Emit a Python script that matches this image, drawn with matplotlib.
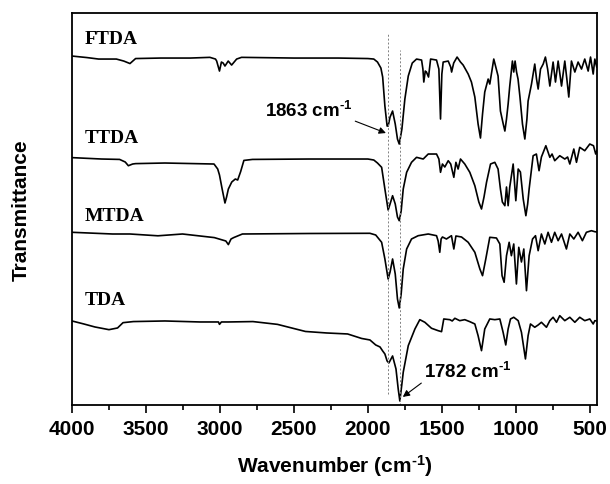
import matplotlib
matplotlib.use("Agg")
import matplotlib.pyplot as plt
from matplotlib.ticker import MultipleLocator

plt.rcParams['font.family'] = ['Liberation Sans', 'DejaVu Sans']
plt.rcParams['font.weight'] = 'bold'
plt.rcParams['mathtext.fontset'] = 'custom'
plt.rcParams['mathtext.rm'] = 'Liberation Sans:bold'
plt.rcParams['mathtext.it'] = 'Liberation Sans:bold'
plt.rcParams['mathtext.bf'] = 'Liberation Sans:bold'

# FTIR spectra: wavenumber (cm-1) and relative transmittance
wn_ftda = [4000, 3900, 3820, 3700, 3650, 3608, 3570, 3400, 3200, 3068, 3030, 3022, 3003, 2990,
           2978, 2966, 2944, 2921, 2887, 2854, 2500, 2200, 2000, 1960, 1935, 1912, 1900, 1885,
           1870, 1863, 1850, 1833, 1815, 1800, 1788, 1770, 1750, 1727, 1700, 1671, 1637, 1628,
           1622, 1612, 1604, 1590, 1576, 1536, 1520, 1509, 1500, 1491, 1457, 1440, 1434, 1420,
           1397, 1374, 1356, 1322, 1300, 1277, 1255, 1239, 1225, 1210, 1187, 1176, 1149, 1120,
           1104, 1085, 1074, 1063, 1052, 1041, 1023, 1014, 1005, 995, 985, 972, 955, 939, 925,
           917, 894, 872, 860, 849, 833, 815, 800, 785, 770, 748, 732, 714, 691, 669, 655, 642,
           624, 601, 579, 556, 534, 511, 495, 477, 466, 453]
t_ftda = [103, 101.5, 100, 100, 98, 95.5, 100.5, 101, 101, 101.7, 100, 98, 88, 97,
          96, 93, 98, 94, 100, 101.7, 101, 101, 100.5, 100, 97, 91, 82, 53,
          33, 33, 42, 48, 35, 20, 15, 30, 60, 83, 96, 100, 99, 90,
          77, 88, 87, 82, 100, 99, 90, 40, 85, 97, 98, 92, 87, 96,
          102, 97, 94, 85, 77, 62, 35, 21, 45, 67, 80, 75, 100, 83,
          48, 35, 28, 40, 55, 73, 98, 87, 98, 87, 80, 62, 35, 20, 40,
          58, 75, 95, 80, 70, 90, 95, 102, 90, 73, 97, 77, 98, 73, 98, 80, 62,
          98, 87, 97, 90, 100, 88, 102, 85, 100, 92]

wn_ttda = [4000, 3800, 3678, 3640, 3619, 3590, 3570, 3372, 3040, 3015, 3003, 2985, 2966, 2955,
           2943, 2920, 2896, 2880, 2860, 2838, 2780, 2400, 2000, 1960, 1935, 1907, 1885, 1863,
           1850, 1833, 1815, 1800, 1788, 1775, 1761, 1738, 1705, 1671, 1626, 1592, 1536, 1520,
           1509, 1496, 1480, 1457, 1440, 1419, 1405, 1390, 1374, 1345, 1311, 1277, 1250, 1232,
           1215, 1198, 1171, 1142, 1120, 1104, 1091, 1074, 1063, 1052, 1041, 1018, 1000, 984,
           969, 950, 932, 920, 910, 883, 861, 843, 827, 797, 770, 755, 737, 703, 669, 650,
           635, 608, 590, 568, 534, 500, 475, 460, 453]
t_ttda = [101.4, 100, 99.6, 97, 93.3, 95, 95.4, 96, 95, 90, 84, 70, 56, 62,
          70, 77, 80, 79, 87.4, 98.6, 99.6, 100, 100, 99, 96, 91.7, 70, 49,
          55, 63.3, 55, 42, 38.3, 48, 70, 86.7, 96.7, 101.7, 100, 105, 105, 100,
          86.7, 95, 92, 98.3, 95, 81.7, 96.7, 90, 100, 95, 86.7, 73.3, 57, 50,
          62, 76.7, 95, 96.7, 90, 70, 57, 53.3, 72, 53.3, 72, 95, 58.3, 90,
          87, 60, 43.3, 55, 70, 103.3, 105, 88.3, 102, 113.3, 101.7, 105, 98.3, 103.3, 100, 102,
          95, 110, 96.7, 111.7, 108.3, 115, 113.3, 105, 108]

wn_mtda = [4000, 3726, 3608, 3419, 3253, 3038, 2960, 2943, 2925, 2907, 2848, 2400, 1986, 1947,
           1907, 1885, 1863, 1850, 1833, 1815, 1800, 1788, 1775, 1761, 1738, 1705, 1660, 1592,
           1536, 1525, 1514, 1505, 1496, 1469, 1435, 1419, 1405, 1367, 1322, 1277, 1243, 1225,
           1203, 1176, 1131, 1108, 1093, 1079, 1063, 1045, 1030, 1014, 996, 980, 962, 946,
           928, 910, 887, 867, 849, 827, 804, 782, 759, 737, 714, 691, 658, 635, 608, 579,
           550, 523, 489, 466, 453]
t_mtda = [101.7, 100, 100, 98.2, 100, 96.4, 93, 89.4, 95, 96.4, 100, 100.5, 100.7, 99,
          91.7, 75, 55, 62, 75, 60, 35, 26, 40, 65, 85, 95, 98.3, 100,
          98.3, 93, 81.7, 95, 97, 95, 98.3, 85, 98, 97, 91.7, 81.7, 65, 58.3,
          75, 96.7, 96, 90, 58.3, 51.7, 78.3, 91.7, 78.3, 90, 50, 86.7, 72, 85,
          43.3, 78.3, 95, 98.3, 83.3, 100, 90, 101.7, 91.7, 101.7, 93.3, 100, 85, 100, 95, 101.7,
          93.3, 101.7, 103.3, 102.3, 102]

wn_tda = [4000, 3920, 3845, 3750, 3692, 3655, 3585, 3372, 3135, 3010, 3003, 2990, 2944, 2777,
          2611, 2422, 2279, 2137, 2042, 1986, 1947, 1918, 1900, 1885, 1870, 1858, 1833, 1810,
          1795, 1784, 1770, 1761, 1727, 1682, 1649, 1615, 1570, 1525, 1502, 1487, 1446, 1430,
          1412, 1379, 1345, 1311, 1277, 1255, 1232, 1210, 1176, 1142, 1108, 1086, 1068, 1052,
          1036, 1014, 984, 962, 935, 917, 901, 872, 849, 827, 793, 770, 748, 725, 703, 669,
          635, 601, 568, 534, 500, 477, 466, 453]
t_tda = [100, 97, 94, 91.3, 93, 98.3, 99.4, 100, 99, 99, 96.6, 99, 99, 99.4,
         96.6, 89.5, 88, 87, 82.5, 81, 76, 74, 70, 67, 60, 58, 65, 52,
         32, 20, 37, 48.7, 75.3, 92, 101.3, 98.7, 92.7, 90.3, 89.3, 102, 101.3, 100,
         102.7, 100.3, 101.3, 99.3, 97, 85.3, 70.3, 92, 102, 101.3, 102, 88.7, 76, 92,
         102, 103.7, 100.3, 88.7, 62, 85.3, 97, 93.7, 96, 98.7, 93.7, 100.3, 103.7, 98.7, 105.3, 100.3,
         103.7, 98.7, 103.7, 100.3, 102, 97, 100.3, 100]

names = ['FTDA', 'TTDA', 'MTDA', 'TDA']
marked_peaks = [1863, 1782]

spectra = [(wn_ftda, t_ftda), (wn_ttda, t_ttda), (wn_mtda, t_mtda), (wn_tda, t_tda)]
offsets = [246, 146, 71, -16]
label_y = [367, 268, 190, 105]

fig = plt.figure(figsize=(6.1, 4.85), dpi=100)
ax = fig.add_axes([0.118, 0.163, 0.861, 0.808])

for (x, t), off in zip(spectra, offsets):
    ax.plot(x, [v + off for v in t], color='black', lw=1.2)

for name, y in zip(names, label_y):
    ax.text(3912, y, name, family=['Liberation Serif', 'DejaVu Serif'], fontsize=14,
            fontweight='bold', va='center', ha='left')

ax.plot([marked_peaks[0]] * 2, [11, 372], ls=(0, (2, 2)), color='gray', lw=0.7)
ax.plot([marked_peaks[1]] * 2, [0, 355], ls=(0, (2, 2)), color='gray', lw=0.7)

sup = r'$^{\text{-1}}$'
ax.annotate('%d cm' % marked_peaks[0] + sup, xy=(1878, 272), xytext=(2400, 295),
            fontsize=13.5, ha='center', va='center',
            arrowprops=dict(arrowstyle='-|>', color='black', lw=0.8,
                            shrinkA=0, shrinkB=0, mutation_scale=10,
                            relpos=(1.0, 0.0)))
ax.annotate('%d cm' % marked_peaks[1] + sup, xy=(1764, 8), xytext=(1324, 34),
            fontsize=13.5, ha='center', va='center',
            arrowprops=dict(arrowstyle='-|>', color='black', lw=0.8,
                            shrinkA=0, shrinkB=0, mutation_scale=10,
                            relpos=(0.0, 0.0)))

ax.set_xlim(4000, 450)
ax.set_ylim(0, 392)
ax.xaxis.set_major_locator(MultipleLocator(500))
ax.xaxis.set_minor_locator(MultipleLocator(250))
ax.tick_params(axis='x', which='major', direction='out', length=6, width=1.2, labelsize=15, pad=4)
ax.tick_params(axis='x', which='minor', direction='out', length=3.5, width=1.2)
ax.set_yticks([])
for s in ax.spines.values():
    s.set_linewidth(1.3)

ax.set_xlabel('Wavenumber (cm' + sup + ')', fontsize=15, fontweight='bold', labelpad=10)
ax.set_ylabel('Transmittance', fontsize=15, fontweight='bold', labelpad=30)

fig.savefig('out.png', dpi=100)
